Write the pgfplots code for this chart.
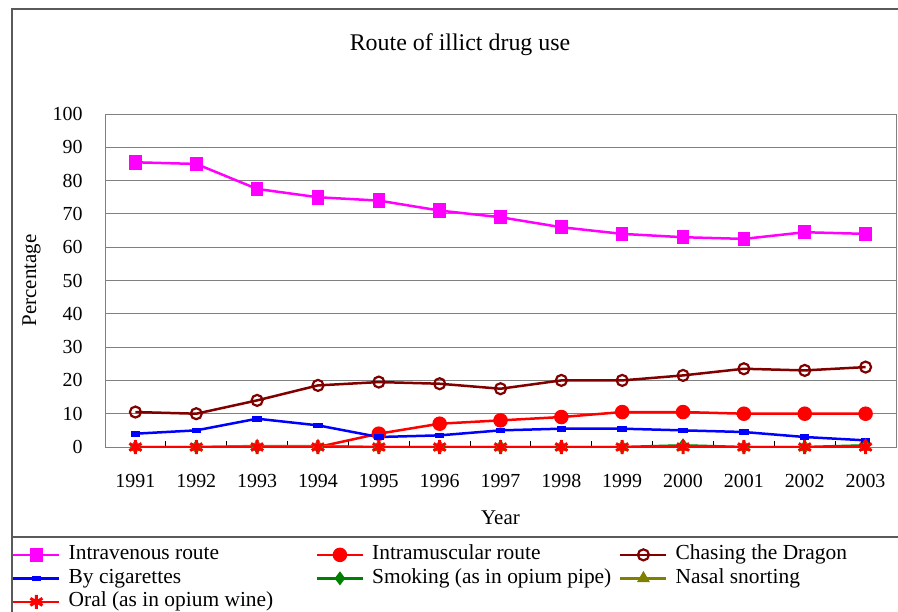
\documentclass[border=0pt]{standalone}
\usepackage{pgfplots}
\pgfplotsset{compat=1.18}
\usepackage{fontspec}
\setmainfont{Liberation Serif}
\definecolor{ivc}{RGB}{255,0,255}
\definecolor{imc}{RGB}{255,0,0}
\definecolor{chc}{RGB}{128,0,0}
\definecolor{cgc}{RGB}{0,0,255}
\definecolor{smc}{RGB}{0,128,0}
\definecolor{nsc}{RGB}{128,128,0}
\definecolor{frc}{RGB}{128,128,128}
\newcommand{\lt}[1]{\hspace{4bp}\makebox[243bp][l]{#1}}
\begin{document}
\begin{tikzpicture}[x=1bp,y=1bp]
\useasboundingbox (0,0) rectangle (898,-612);
\draw[frc!70!black, line width=1.2bp] (12,-9) rectangle (910,-625);
\draw[frc!70!black, line width=1.2bp] (12,-537) -- (910,-537);
\node[font=\fontsize{24}{28}\selectfont] at (460,-45) {Route of illict drug use};
\begin{axis}[
  at={(105bp,-447bp)}, anchor=south west,
  scale only axis, width=791bp, height=333bp,
  xmin=1990.5, xmax=2003.5, ymin=0, ymax=100,
  ytick={0,10,...,100},
  ytick style={draw=none},
  xtick={1990.5,1991.5,...,2003.5}, xticklabels={},
  xtick pos=bottom,
  xtick style={black, line width=0.8bp},
  major tick length=6bp,
  tick align=inside,
  extra x ticks={1991,...,2003},
  extra x tick labels={1991,1992,1993,1994,1995,1996,1997,1998,1999,2000,2001,2002,2003},
  extra x tick style={major tick length=0pt, xticklabel style={yshift=-24bp}},
  ymajorgrids, grid style={frc, line width=1bp},
  axis line style={frc, line width=1bp},
  /pgf/number format/assume math mode=true,
  ticklabel style={font=\fontsize{20}{24}\selectfont},
  yticklabel style={xshift=-19bp},
  xlabel={Year}, ylabel={Percentage},
  label style={font=\fontsize{21}{25}\selectfont},
  xlabel style={yshift=-16bp},
  ylabel style={yshift=5bp},
  legend columns=3,
  legend cell align=left,
  legend style={at={(axis description cs:-0.1176,-0.288)}, anchor=north west,
    draw=none, fill=none, inner sep=0pt, column sep=0pt, row sep=0pt,
    font=\fontsize{21.5}{26}\selectfont,
    nodes={text height=15bp, text depth=5.5bp, inner ysep=1.5bp, inner xsep=4bp}},
  legend image code/.code={\draw[mark repeat=2,mark phase=2,#1] plot coordinates {(0bp,0bp) (23bp,0bp) (46bp,0bp)};},
  every axis plot/.append style={line width=2.5bp},
]
\addplot[ivc, mark=square*, mark size=5bp, mark options={yscale=1.2, solid}] coordinates {
(1991,85.5) (1992,85) (1993,77.5) (1994,75) (1995,74) (1996,71) (1997,69) (1998,66) (1999,64) (2000,63) (2001,62.5) (2002,64.5) (2003,64)};
\addlegendentry{\lt{Intravenous route}}
\addplot[imc, forget plot] coordinates {(1994,0) (1995,4)};
\addplot[imc, mark=*, mark size=6bp] coordinates {
(1995,4) (1996,7) (1997,8) (1998,9) (1999,10.5) (2000,10.5) (2001,10) (2002,10) (2003,10)};
\addlegendentry{\lt{Intramuscular route}}
\addplot[chc, mark=o, mark size=5.5bp, mark options={fill=white, line width=2.2bp}] coordinates {
(1991,10.5) (1992,10) (1993,14) (1994,18.5) (1995,19.5) (1996,19) (1997,17.5) (1998,20) (1999,20) (2000,21.5) (2001,23.5) (2002,23) (2003,24)};
\addlegendentry{\lt{Chasing the Dragon}}
\addplot[cgc, mark=square*, mark size=3.5bp, mark options={yscale=0.45}] coordinates {
(1991,4) (1992,5) (1993,8.5) (1994,6.5) (1995,3) (1996,3.5) (1997,5) (1998,5.5) (1999,5.5) (2000,5) (2001,4.5) (2002,3) (2003,2)};
\addlegendentry{\lt{By cigarettes}}
\addplot[smc, mark=diamond*, mark size=5bp] coordinates {
(1991,0) (1992,0) (1993,0) (1994,0) (1995,0) (1996,0) (1997,0) (1998,0) (1999,0) (2000,0.5) (2001,0) (2002,0) (2003,0.5)};
\addlegendentry{\lt{Smoking (as in opium pipe)}}
\addplot[nsc, mark=triangle*, mark size=5bp] coordinates {
(1991,0) (1992,0) (1993,0.3) (1994,0.3) (1995,0) (1996,0) (1997,0) (1998,0) (1999,0) (2000,0) (2001,0) (2002,0) (2003,0)};
\addlegendentry{\lt{Nasal snorting}}
\addplot[imc, mark=asterisk, mark size=7bp, mark options={line width=3bp}] coordinates {
(1991,0) (1992,0) (1993,0) (1994,0) (1995,0) (1996,0) (1997,0) (1998,0) (1999,0) (2000,0) (2001,0) (2002,0) (2003,0)};
\addlegendentry{\lt{Oral (as in opium wine)}}
\end{axis}
\end{tikzpicture}
\end{document}
